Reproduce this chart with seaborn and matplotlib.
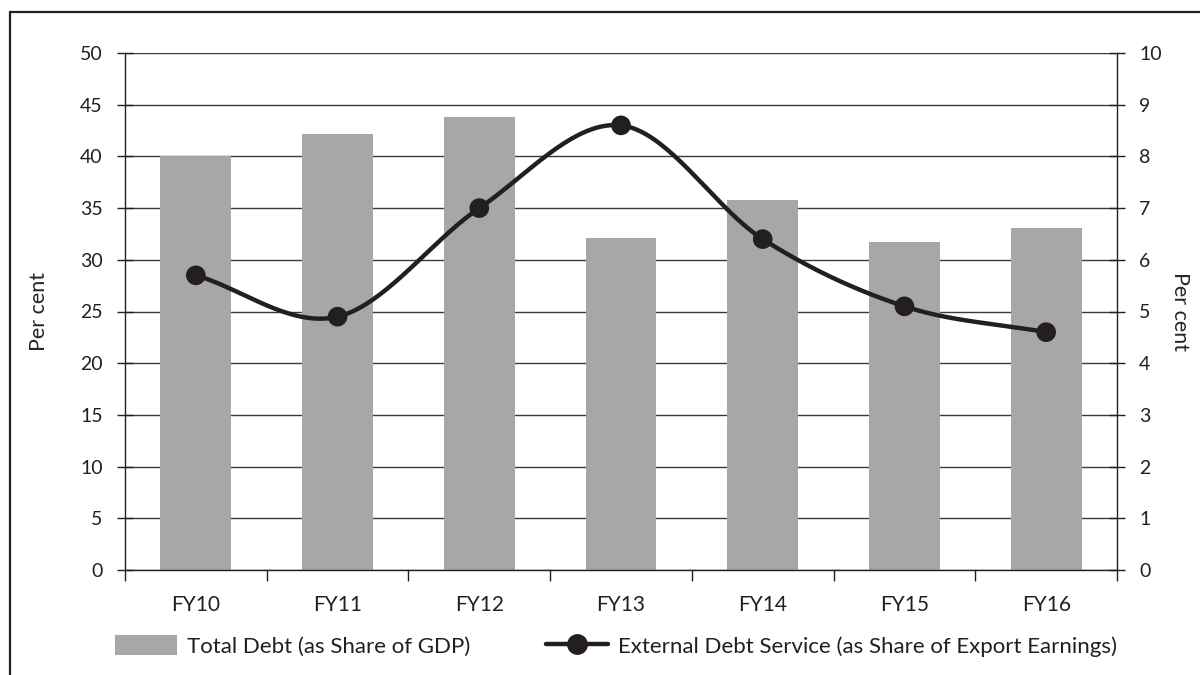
import numpy as np
import pandas as pd
import matplotlib
matplotlib.use("Agg")
import matplotlib.pyplot as plt
from matplotlib.patches import Patch
from matplotlib.lines import Line2D
import seaborn as sns

# Data
years = ["FY10", "FY11", "FY12", "FY13", "FY14", "FY15", "FY16"]
total_debt_gdp = [40.0, 42.2, 43.8, 32.1, 35.8, 31.7, 33.1]
ext_debt_service = [5.7, 4.9, 7.0, 8.6, 6.4, 5.1, 4.6]
left_ticks = list(range(0, 55, 5))
right_ticks = list(range(0, 11, 1))

bar_color = "#a7a7a9"
line_color = "#231f20"
grid_color = "#3a3a3a"

sns.set_theme(style="white")
plt.rcParams["font.family"] = ["Lato", "DejaVu Sans"]
plt.rcParams["text.color"] = "#231f20"

df = pd.DataFrame({"year": years, "debt": total_debt_gdp, "service": ext_debt_service})

fig = plt.figure(figsize=(12, 6.75), dpi=100)
ax = fig.add_axes([125 / 1200, 1 - 570 / 675, (1117 - 125) / 1200, (570 - 53) / 675])

sns.barplot(data=df, x="year", y="debt", color=bar_color, width=0.5,
            saturation=1, edgecolor="none", ax=ax, zorder=2)
ax.set_ylim(0, 50)
ax.set_xlim(-0.5, len(years) - 0.5)
ax.set_yticks(left_ticks)
ax.yaxis.grid(True, color=grid_color, linewidth=1)
ax.set_axisbelow(True)
ax.set_xlabel("")
ax.set_ylabel("Per cent", fontsize=15.5, labelpad=22)

for side in ["top", "right"]:
    ax.spines[side].set_visible(False)
for side in ["left", "bottom"]:
    ax.spines[side].set_color(line_color)
    ax.spines[side].set_linewidth(1)

ax.tick_params(axis="y", direction="inout", length=12, width=1, colors=line_color,
               labelsize=14, pad=10, left=True)
ax.tick_params(axis="x", which="major", length=0, labelsize=15, pad=18,
               labelcolor=line_color)
ax.set_xticks(np.arange(-0.5, len(years), 1.0), minor=True)
ax.tick_params(axis="x", which="minor", direction="out", length=8, width=1,
               color=line_color, bottom=True)

# Secondary axis: smoothed line through the debt-service points
ax2 = ax.twinx()
ax2.set_ylim(0, 10)
ax2.set_yticks(right_ticks)
ax2.grid(False)
for side in ["top", "left", "bottom"]:
    ax2.spines[side].set_visible(False)
ax2.spines["right"].set_color(line_color)
ax2.spines["right"].set_linewidth(1)
ax2.tick_params(axis="y", direction="inout", length=12, width=1, colors=line_color,
                labelsize=14, pad=10, right=True)
ax2.set_ylabel("Per cent", fontsize=15.5, rotation=-90, labelpad=20)


def catmull_rom(xs, ys, n=40):
    xs = np.asarray(xs, float)
    ys = np.asarray(ys, float)
    px = np.concatenate([[2 * xs[0] - xs[1]], xs, [2 * xs[-1] - xs[-2]]])
    py = np.concatenate([[2 * ys[0] - ys[1]], ys, [2 * ys[-1] - ys[-2]]])
    out_x, out_y = [], []
    t = np.linspace(0, 1, n, endpoint=False)
    for i in range(1, len(px) - 2):
        p0, p1, p2, p3 = (np.array([px[j], py[j]]) for j in (i - 1, i, i + 1, i + 2))
        c1 = p1 + (p2 - p0) / 6
        c2 = p2 - (p3 - p1) / 6
        b = ((1 - t) ** 3)[:, None] * p1 + (3 * (1 - t) ** 2 * t)[:, None] * c1 \
            + (3 * (1 - t) * t ** 2)[:, None] * c2 + (t ** 3)[:, None] * p2
        out_x.extend(b[:, 0])
        out_y.extend(b[:, 1])
    out_x.append(xs[-1])
    out_y.append(ys[-1])
    return np.array(out_x), np.array(out_y)


xpos = np.arange(len(years))
sx, sy = catmull_rom(xpos, ext_debt_service)
ax2.plot(sx, sy, color=line_color, linewidth=3.2, solid_capstyle="round", zorder=3)
sns.scatterplot(x=xpos, y=ext_debt_service, color=line_color, s=200,
                edgecolor="none", ax=ax2, zorder=4, legend=False)
ax2.set_xlim(-0.5, len(years) - 0.5)

# Frame around the figure panel
fig.add_artist(Line2D([10 / 1200, 1], [1 - 12 / 675, 1 - 12 / 675],
                      transform=fig.transFigure, color=line_color, linewidth=1.6))
fig.add_artist(Line2D([10 / 1200, 10 / 1200], [0, 1 - 12 / 675],
                      transform=fig.transFigure, color=line_color, linewidth=1.6))

handles = [
    Patch(facecolor=bar_color, edgecolor="none", label="Total Debt (as Share of GDP)"),
    Line2D([0], [0], color=line_color, linewidth=3.2, marker="o", markersize=14,
           label="External Debt Service (as Share of Export Earnings)"),
]
fig.legend(handles=handles, loc="center", bbox_to_anchor=(616 / 1200, 1 - 646 / 675),
           ncol=2, frameon=False, fontsize=16, handlelength=2.8, handleheight=1.0,
           columnspacing=3.4, handletextpad=0.45)

fig.savefig("out.png", dpi=100)
